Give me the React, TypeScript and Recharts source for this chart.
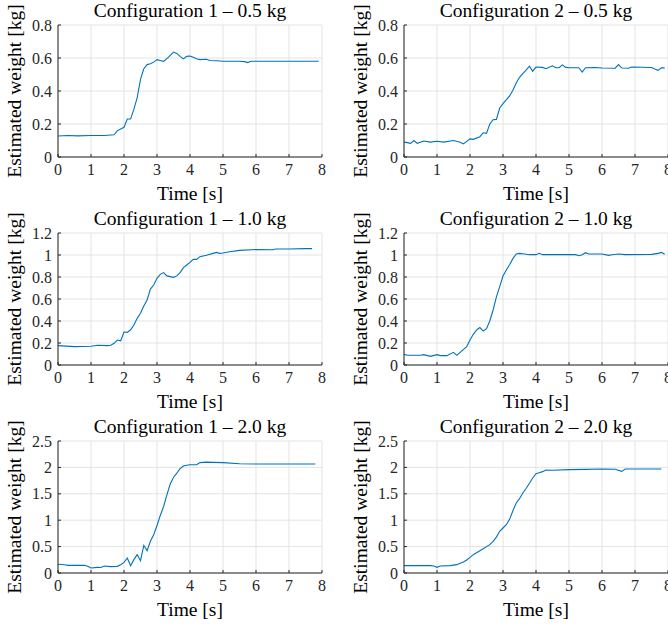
import { CartesianGrid, Line, LineChart, XAxis, YAxis } from "recharts";

const FONT = "Liberation Serif";
const INK = "#262626";
const BLUE = "#0072BD";
const GRID = "#e3e3e3";

const timeTicks = [0, 1, 2, 3, 4, 5, 6, 7, 8];
const ticksHalf = [0, 0.2, 0.4, 0.6, 0.8];
const ticksOne = [0, 0.2, 0.4, 0.6, 0.8, 1, 1.2];
const ticksTwo = [0, 0.5, 1, 1.5, 2, 2.5];

// configuration 1, 0.5 kg
const c1HalfT = [0, 0.3, 0.6, 1.0, 1.4, 1.7, 1.8, 1.9, 2.0, 2.1, 2.2, 2.3, 2.4, 2.5, 2.6, 2.7, 2.8, 2.9, 3.0, 3.1, 3.2, 3.35, 3.5, 3.6, 3.7, 3.8, 3.9, 4.0, 4.1, 4.2, 4.3, 4.5, 4.6, 4.8, 5.0, 5.5, 5.65, 5.75, 5.85, 6.5, 7.0, 7.5, 7.9];
const c1HalfW = [0.127, 0.13, 0.128, 0.13, 0.13, 0.135, 0.16, 0.17, 0.18, 0.23, 0.23, 0.29, 0.36, 0.47, 0.535, 0.56, 0.565, 0.575, 0.59, 0.585, 0.58, 0.605, 0.636, 0.628, 0.61, 0.595, 0.61, 0.612, 0.605, 0.595, 0.59, 0.592, 0.585, 0.583, 0.58, 0.58, 0.578, 0.572, 0.58, 0.58, 0.58, 0.58, 0.58];

// configuration 2, 0.5 kg
const c2HalfT = [0, 0.1, 0.2, 0.3, 0.4, 0.6, 0.8, 1.0, 1.2, 1.5, 1.7, 1.8, 2.0, 2.1, 2.3, 2.4, 2.5, 2.6, 2.7, 2.8, 2.9, 3.0, 3.2, 3.3, 3.4, 3.5, 3.6, 3.7, 3.8, 3.9, 4.0, 4.2, 4.3, 4.5, 4.6, 4.7, 4.8, 4.9, 5.0, 5.3, 5.4, 5.5, 5.8, 6.0, 6.4, 6.5, 6.6, 6.8, 6.9, 7.5, 7.6, 7.7, 7.8, 7.9];
const c2HalfW = [0.09, 0.087, 0.083, 0.1, 0.083, 0.097, 0.09, 0.095, 0.09, 0.1, 0.09, 0.079, 0.11, 0.107, 0.123, 0.147, 0.143, 0.2, 0.226, 0.228, 0.297, 0.323, 0.37, 0.404, 0.448, 0.483, 0.505, 0.527, 0.55, 0.52, 0.545, 0.543, 0.535, 0.553, 0.541, 0.541, 0.558, 0.543, 0.541, 0.541, 0.515, 0.541, 0.542, 0.539, 0.538, 0.56, 0.539, 0.538, 0.545, 0.542, 0.533, 0.525, 0.54, 0.54];

// configuration 1, 1.0 kg
const c1OneT = [0, 0.5, 1.0, 1.2, 1.5, 1.6, 1.7, 1.8, 1.9, 2.0, 2.1, 2.2, 2.3, 2.4, 2.5, 2.6, 2.7, 2.8, 2.9, 3.0, 3.1, 3.2, 3.3, 3.5, 3.6, 3.7, 3.8, 3.9, 4.0, 4.1, 4.2, 4.3, 4.5, 4.7, 4.8, 4.9, 5.0, 5.2, 5.5, 6.0, 6.5, 6.6, 7.0, 7.5, 7.7];
const c1OneW = [0.176, 0.167, 0.17, 0.18, 0.176, 0.18, 0.197, 0.227, 0.22, 0.3, 0.297, 0.32, 0.364, 0.424, 0.47, 0.536, 0.59, 0.69, 0.727, 0.788, 0.824, 0.84, 0.81, 0.797, 0.81, 0.84, 0.885, 0.909, 0.933, 0.96, 0.96, 0.985, 0.997, 1.015, 1.024, 1.015, 1.018, 1.03, 1.042, 1.05, 1.048, 1.055, 1.055, 1.058, 1.058];

// configuration 2, 1.0 kg
const c2OneT = [0, 0.1, 0.5, 0.6, 0.8, 1.0, 1.1, 1.3, 1.5, 1.6, 1.7, 1.9, 2.0, 2.1, 2.2, 2.3, 2.4, 2.5, 2.6, 2.7, 2.8, 2.9, 3.0, 3.1, 3.2, 3.3, 3.4, 3.5, 3.6, 3.8, 4.0, 4.1, 4.2, 4.5, 5.0, 5.2, 5.3, 5.4, 5.5, 5.6, 6.0, 6.2, 6.3, 6.5, 6.7, 7.5, 7.7, 7.8, 7.9];
const c2OneW = [0.097, 0.088, 0.088, 0.094, 0.079, 0.094, 0.085, 0.085, 0.115, 0.088, 0.115, 0.167, 0.227, 0.279, 0.318, 0.34, 0.309, 0.33, 0.4, 0.5, 0.62, 0.712, 0.809, 0.864, 0.912, 0.967, 1.009, 1.015, 1.012, 1.003, 1.003, 1.015, 1.003, 1.003, 1.003, 1.003, 0.994, 1.003, 1.021, 1.009, 1.009, 0.997, 1.003, 1.009, 1.003, 1.006, 1.015, 1.024, 1.006];

// configuration 1, 2.0 kg
const c1TwoT = [0, 0.2, 0.3, 0.8, 0.9, 1.0, 1.2, 1.3, 1.4, 1.6, 1.8, 1.9, 2.0, 2.1, 2.2, 2.3, 2.4, 2.5, 2.6, 2.7, 2.8, 2.9, 3.0, 3.1, 3.2, 3.3, 3.4, 3.5, 3.6, 3.7, 3.8, 3.9, 4.0, 4.2, 4.3, 4.5, 4.7, 5.0, 5.5, 6.0, 7.0, 7.8];
const c1TwoW = [0.165, 0.155, 0.145, 0.145, 0.126, 0.095, 0.107, 0.105, 0.133, 0.12, 0.126, 0.158, 0.2, 0.284, 0.139, 0.253, 0.347, 0.234, 0.524, 0.423, 0.6, 0.726, 0.9, 1.09, 1.26, 1.48, 1.686, 1.81, 1.89, 1.976, 2.027, 2.04, 2.05, 2.05, 2.09, 2.1, 2.095, 2.09, 2.07, 2.064, 2.064, 2.064];

// configuration 2, 2.0 kg
const c2TwoT = [0, 0.5, 0.8, 0.9, 1.0, 1.1, 1.4, 1.6, 1.7, 1.8, 1.9, 2.0, 2.1, 2.2, 2.4, 2.6, 2.7, 2.8, 2.9, 3.0, 3.1, 3.2, 3.3, 3.4, 3.5, 3.6, 3.7, 3.8, 3.9, 4.0, 4.1, 4.2, 4.3, 4.5, 5.0, 5.5, 6.0, 6.4, 6.6, 6.7, 7.0, 7.8];
const c2TwoW = [0.139, 0.139, 0.139, 0.133, 0.107, 0.133, 0.139, 0.158, 0.183, 0.208, 0.246, 0.297, 0.347, 0.385, 0.46, 0.537, 0.6, 0.68, 0.79, 0.852, 0.915, 1.016, 1.18, 1.326, 1.408, 1.515, 1.6, 1.7, 1.8, 1.88, 1.9, 1.92, 1.95, 1.945, 1.957, 1.963, 1.97, 1.965, 1.925, 1.97, 1.97, 1.97];

const titles = [
  "Configuration 1 \u2013 0.5 kg",
  "Configuration 2 \u2013 0.5 kg",
  "Configuration 1 \u2013 1.0 kg",
  "Configuration 2 \u2013 1.0 kg",
  "Configuration 1 \u2013 2.0 kg",
  "Configuration 2 \u2013 2.0 kg",
];

const panels = [
  { t: c1HalfT, w: c1HalfW, ticks: ticksHalf },
  { t: c2HalfT, w: c2HalfW, ticks: ticksHalf },
  { t: c1OneT, w: c1OneW, ticks: ticksOne },
  { t: c2OneT, w: c2OneW, ticks: ticksOne },
  { t: c1TwoT, w: c1TwoW, ticks: ticksTwo },
  { t: c2TwoT, w: c2TwoW, ticks: ticksTwo },
];

const W = 334;
const H = 208;
const TOP = 25;
const PLOT_H = 132;
const PLOT_W = 264;
const tickStyle = { fill: INK, fontSize: 16, fontFamily: FONT };

function Panel({ idx }: { idx: number }) {
  const p = panels[idx];
  const left = idx % 2 === 0;
  const axisW = left ? 58 : 70;
  const data = p.t.map((t, i) => ({ t, w: p.w[i] }));
  const yMax = p.ticks[p.ticks.length - 1];
  const cx = axisW + PLOT_W / 2;
  const cy = TOP + PLOT_H / 2;
  const ly = axisW - 37.5;

  return (
    <div style={{ position: "relative", width: W, height: H }}>
      <LineChart width={W} height={H} data={data} margin={{ top: TOP, right: left ? 12 : 0, bottom: 0, left: 0 }}>
        <CartesianGrid stroke={GRID} />
        <XAxis
          type="number"
          dataKey="t"
          domain={[0, 8]}
          ticks={timeTicks}
          interval={0}
          height={51}
          tickSize={-3}
          tickMargin={10}
          stroke={INK}
          tick={tickStyle}
          allowDataOverflow
        />
        <YAxis
          type="number"
          domain={[0, yMax]}
          ticks={p.ticks}
          interval={0}
          width={axisW}
          tickSize={-3}
          tickMargin={9}
          stroke={INK}
          tick={tickStyle}
          allowDataOverflow
        />
        <Line type="linear" dataKey="w" stroke={BLUE} strokeWidth={1.1} dot={false} isAnimationActive={false} />
      </LineChart>
      <svg width={W} height={H} style={{ position: "absolute", left: 0, top: 0, pointerEvents: "none", overflow: "visible" }}>
        <g fontFamily={FONT} fill="#000" fontSize={19.5}>
          <text x={cx} y={17.4} textAnchor="middle">{titles[idx]}</text>
          <text x={cx} y={200} textAnchor="middle">Time [s]</text>
          <text x={ly} y={cy} transform={`rotate(-90, ${ly}, ${cy})`} textAnchor="middle">
            Estimated weight [kg]
          </text>
        </g>
      </svg>
    </div>
  );
}

export default function App() {
  return (
    <div style={{ position: "absolute", left: 0, top: 0, width: 668, height: 624, background: "#fff", overflow: "hidden", fontFamily: FONT }}>
      {panels.map((_, i) => (
        <div key={i} style={{ position: "absolute", left: (i % 2) * W, top: Math.floor(i / 2) * H, width: W, height: H }}>
          <Panel idx={i} />
        </div>
      ))}
    </div>
  );
}
